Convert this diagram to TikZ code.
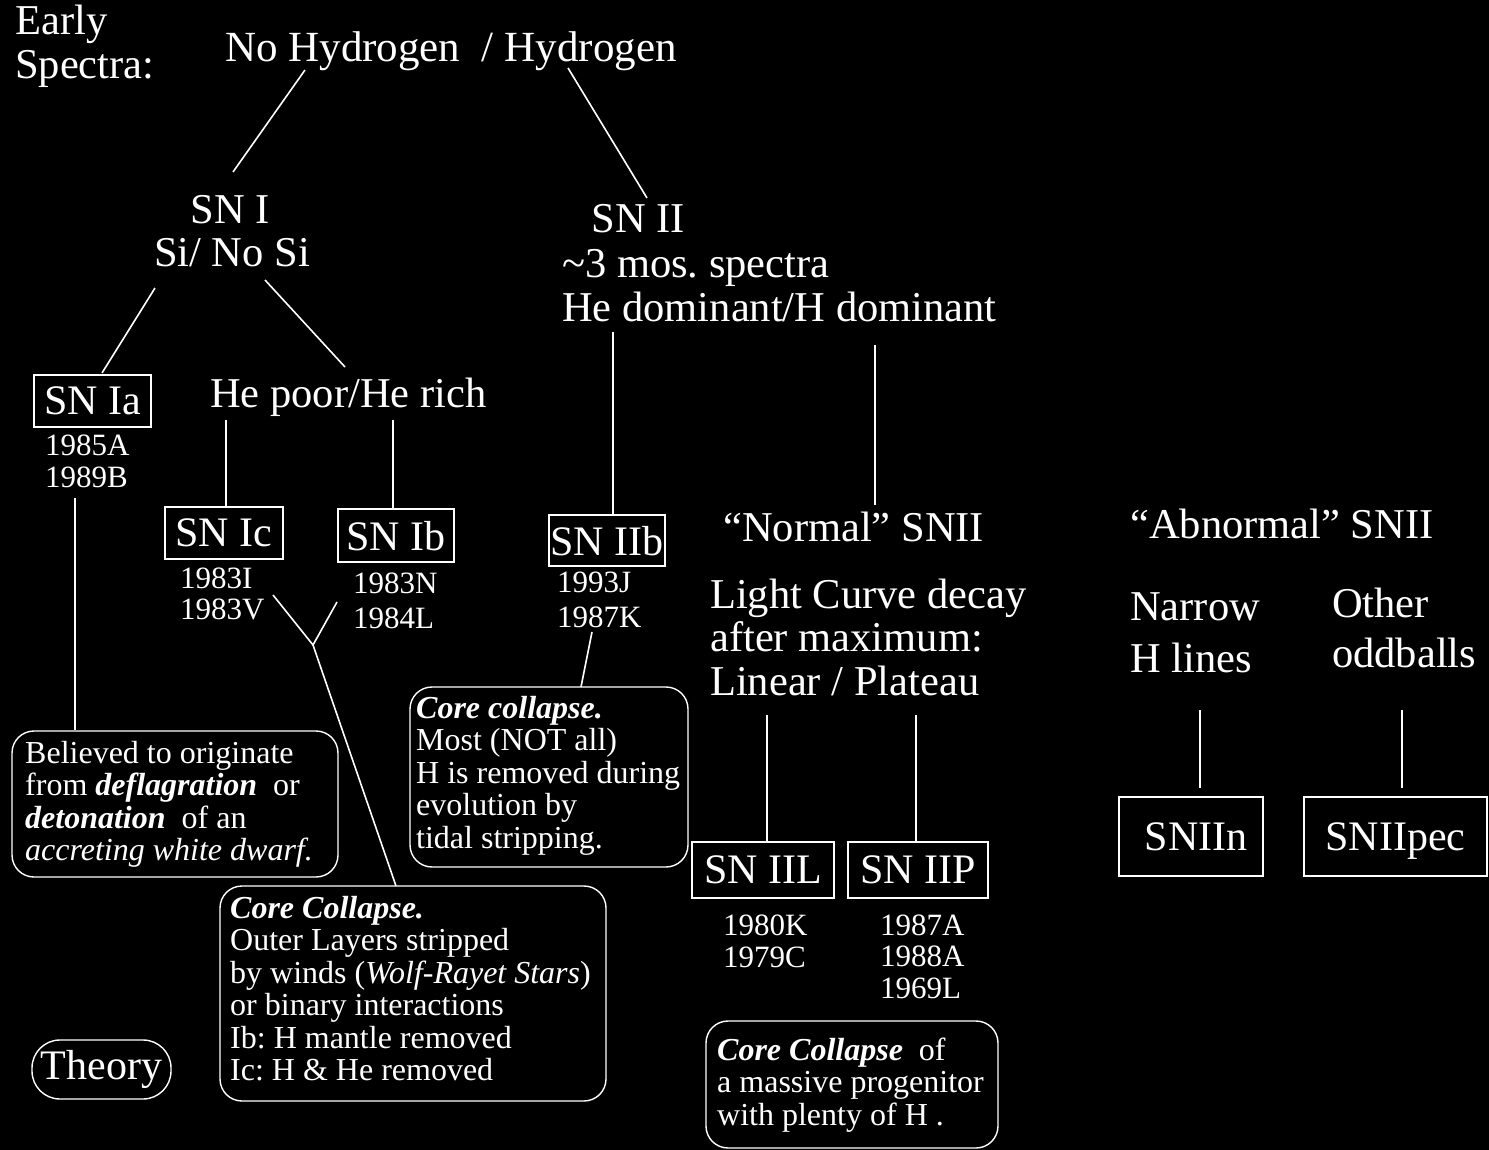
\documentclass[tikz,border=0pt]{standalone}
\usepackage{fontspec}
\setmainfont{Liberation Serif}
\frenchspacing
\begin{document}
\begin{tikzpicture}[x=1pt,y=-1pt,
  every node/.style={text=white, inner sep=0pt},
  lbl/.style={anchor=base west, font=\fontsize{42.5}{43.5}\selectfont},
  lblc/.style={anchor=base, font=\fontsize{42.5}{43.5}\selectfont},
  sm/.style={anchor=base west, font=\fontsize{32}{32.5}\selectfont},
  sq/.style={draw=white, line width=1.6pt, text depth=0pt, font=\fontsize{42}{44}\selectfont},
  rbox/.style={draw=white, line width=1.4pt, rounded corners=22pt},
  conn/.style={draw=white, line width=1.6pt}]
\useasboundingbox[fill=black] (0,0) rectangle (1489,1150);

% ---- headings
\node[lbl] (early) at (15,35) {\vtop{\hbox{Early}\hbox{Spectra:}}};
\node[lbl, font=\fontsize{43}{44}\selectfont] (hyd) at (225,62) {No Hydrogen\ \ / Hydrogen};
\node[lblc] (sn1) at (230,224) {SN I};
\node[lblc] (sn1b) at (232,267) {Si/ No Si};
\node[lblc] (sn2) at (638,233) {SN II};
\node[lbl] (sn2b) at (562,278) {\vtop{\hbox{\textasciitilde3 mos. spectra}\hbox{He dominant/H dominant}}};
\node[lbl] (hepoor) at (210,407) {He poor/He rich};
\node[lbl] (normal) at (723,541) {“Normal” SNII};
\node[lbl] (lc) at (710,608) {\vtop{\hbox{Light Curve decay}\hbox{after maximum:}\hbox{Linear / Plateau}}};
\node[lbl] (abn) at (1130,538) {“Abnormal” SNII};
\node[lbl,font=\fontsize{42.5}{52}\selectfont] (narrow) at (1130,620) {\vtop{\hbox{Narrow}\hbox{H lines}}};
\node[lbl,font=\fontsize{42.5}{50}\selectfont] (other) at (1332,617) {\vtop{\hbox{Other}\hbox{oddballs}}};

% ---- boxes
\node[sq, minimum width=117pt, minimum height=52pt] (snIa) at (92.5,401) {SN Ia};
\node[sq, minimum width=118pt, minimum height=52pt] (snIc) at (224,533) {SN Ic};
\node[sq, minimum width=116pt, minimum height=53pt] (snIb) at (396,535.5) {SN Ib};
\node[sq, minimum width=116pt, minimum height=51pt] (snIIb) at (607,540.5) {SN IIb};
\node[sq, minimum width=142pt, minimum height=56pt] (snIIL) at (763,870) {SN IIL};
\node[sq, minimum width=140pt, minimum height=56pt] (snIIP) at (918,870) {SN IIP};
\node[sq, minimum width=144pt, minimum height=79pt] (snIIn) at (1191,836.5) {\ SNIIn};
\node[sq, minimum width=183pt, minimum height=79pt] (snIIpec) at (1395.5,836.5) {SNIIpec};

% ---- dates
\node[sm,font=\fontsize{31}{32}\selectfont] (dIa) at (45,455) {\vtop{\hbox{1985A}\hbox{1989B}}};
\node[sm,font=\fontsize{31}{31}\selectfont] (dIc) at (180,588) {\vtop{\hbox{1983I}\hbox{1983V}}};
\node[sm,font=\fontsize{31}{35}\selectfont] (dIb) at (353,593) {\vtop{\hbox{1983N}\hbox{1984L}}};
\node[sm,font=\fontsize{31}{35}\selectfont] (dIIb) at (557,592) {\vtop{\hbox{1993J}\hbox{1987K}}};
\node[sm,font=\fontsize{31}{32}\selectfont] (dIIL) at (723,935) {\vtop{\hbox{1980K}\hbox{1979C}}};
\node[sm,font=\fontsize{31}{31.5}\selectfont] (dIIP) at (880,935) {\vtop{\hbox{1987A}\hbox{1988A}\hbox{1969L}}};

% ---- rounded explanation boxes
\node[rbox, minimum width=326pt, minimum height=146pt] (bel) at (175,804) {};
\node[sm] (beltxt) at (25,763) {\vtop{\hbox{Believed to originate}\hbox{from \textbf{\textit{deflagration}}\ \ or}\hbox{\textbf{\textit{detonation}}\ \ of an}\hbox{\textit{accreting white dwarf.}}}};
\node[rbox, minimum width=278pt, minimum height=180pt] (cc2) at (549,777) {};
\node[sm] (cc2txt) at (416,718) {\vtop{\hbox{\textbf{\textit{Core collapse.}}}\hbox{Most (NOT all)}\hbox{H is removed during}\hbox{evolution by}\hbox{tidal stripping.}}};
\node[rbox, minimum width=386pt, minimum height=215pt] (cc1) at (413,993.5) {};
\node[sm] (cc1txt) at (230,918) {\vtop{\hbox{\textbf{\textit{Core Collapse.}}}\hbox{Outer Layers stripped}\hbox{by winds (\textit{Wolf-Rayet Stars})}\hbox{or binary interactions}\hbox{Ib: H mantle removed}\hbox{Ic: H \& He removed}}};
\node[rbox, minimum width=292pt, minimum height=127pt] (cc3) at (852,1084.5) {};
\node[sm] (cc3txt) at (717,1060) {\vtop{\hbox{\textbf{\textit{Core Collapse}}\ \ of}\hbox{a massive progenitor}\hbox{with plenty of H .}}};
\node[rbox, rounded corners=28pt, minimum width=139pt, minimum height=59pt, font=\fontsize{42}{44}\selectfont] (theory) at (101.5,1069.5) {Theory};

% ---- connector end points
\coordinate (a1) at (305,70);  \coordinate (a2) at (233,172);
\coordinate (b1) at (568,68);  \coordinate (b2) at (647,198);
\coordinate (c1) at (155,288); \coordinate (c2) at (102,373);
\coordinate (d1) at (265,280); \coordinate (d2) at (345,367);
\coordinate (e1) at (613,332);
\coordinate (f1) at (875,345); \coordinate (f2) at (875,505);
\coordinate (g1) at (226,420);
\coordinate (h1) at (393,420);
\coordinate (i1) at (75,498);
\coordinate (j1) at (273,595); \coordinate (j2) at (337,602); \coordinate (jm) at (313,645);
\coordinate (j3) at (396,886);
\coordinate (k1) at (592,632); \coordinate (k2) at (581,687);
\coordinate (m1) at (767,715);
\coordinate (n1) at (916,715);
\coordinate (p1) at (1200,710); \coordinate (p2) at (1200,788);
\coordinate (q1) at (1402,710); \coordinate (q2) at (1402,788);

% ---- connectors
\draw[conn] (a1) -- (a2);
\draw[conn] (b1) -- (b2);
\draw[conn] (c1) -- (c2);
\draw[conn] (d1) -- (d2);
\draw[conn] (e1) -- (e1 |- snIIb.north);
\draw[conn] (f1) -- (f2);
\draw[conn] (g1) -- (g1 |- snIc.north);
\draw[conn] (h1) -- (h1 |- snIb.north);
\draw[conn] (i1) -- (i1 |- bel.north);
\draw[conn] (j1) -- (jm) -- (j2);
\draw[conn] (jm) -- (j3);
\draw[conn] (k1) -- (k2);
\draw[conn] (m1) -- (m1 |- snIIL.north);
\draw[conn] (n1) -- (n1 |- snIIP.north);
\draw[conn] (p1) -- (p2);
\draw[conn] (q1) -- (q2);
\end{tikzpicture}
\end{document}
